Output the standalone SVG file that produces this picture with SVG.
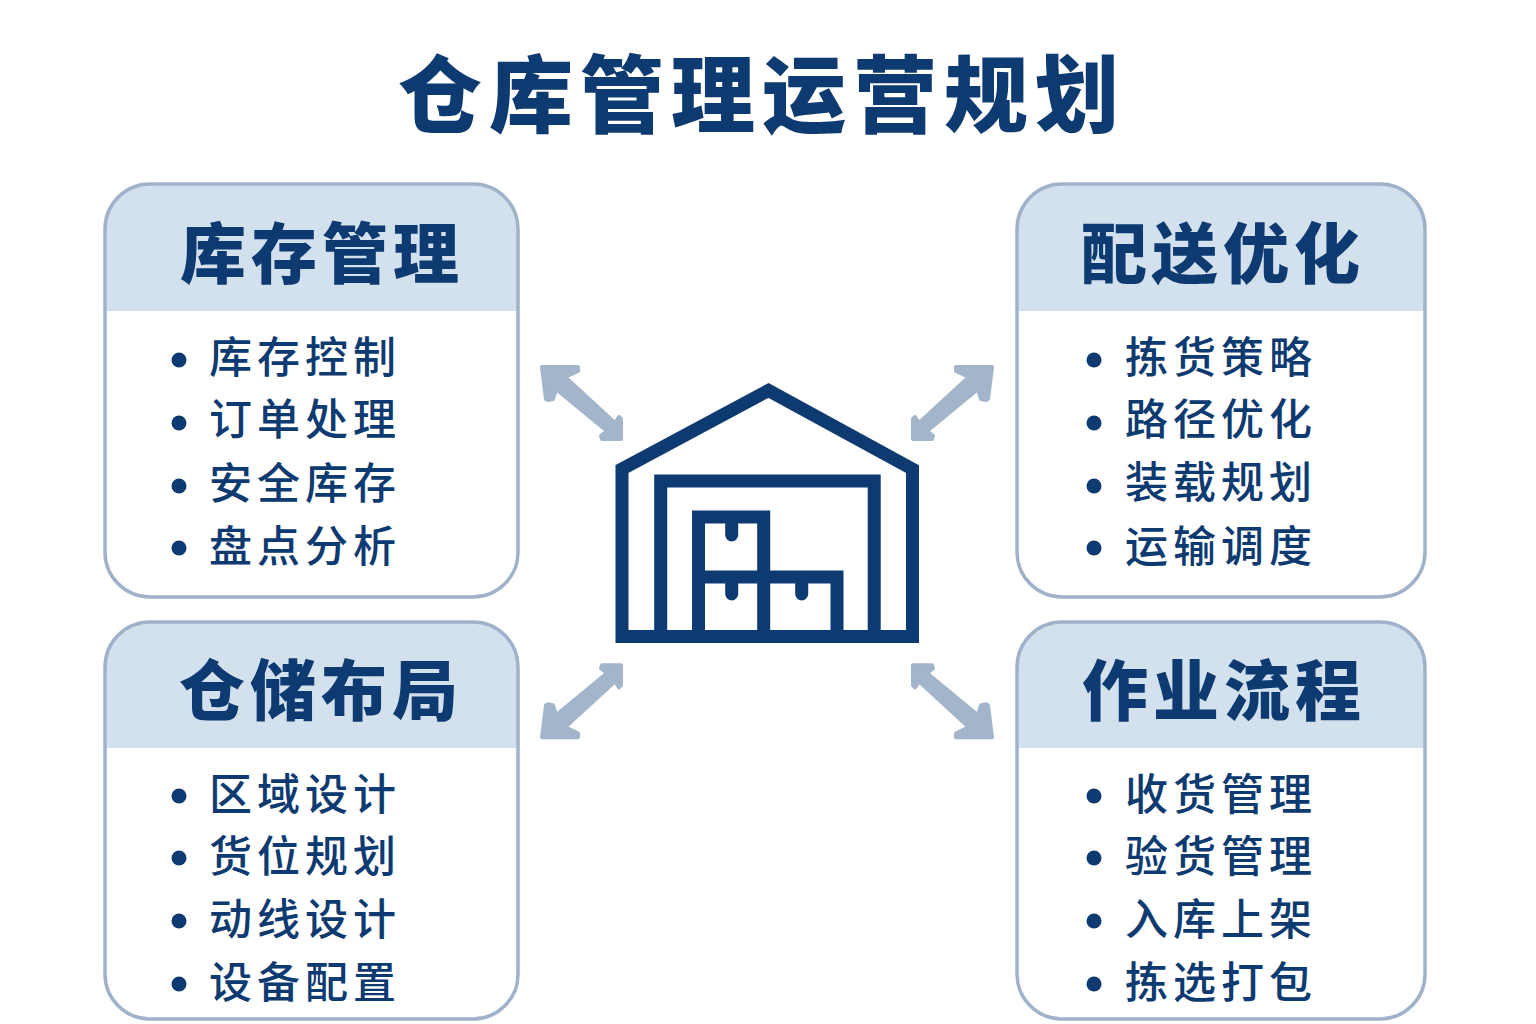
<svg xmlns="http://www.w3.org/2000/svg" width="1536" height="1024" viewBox="0 0 1536 1024">
<style>
text{font-family:"Noto Sans CJK SC","Liberation Sans",sans-serif;fill:#0d3a70}
.title{font-size:84px;font-weight:900;letter-spacing:7px;text-anchor:middle}
.head{font-size:66px;font-weight:900;letter-spacing:5px;text-anchor:middle}
.item{font-size:43px;font-weight:500;letter-spacing:5px}
.bullet{fill:#0d3a70}
.border{fill:none;stroke:#9fb2ca;stroke-width:3.5}
.header{fill:#d3e1ef}
.ink{fill:none;stroke:#0d3a70;stroke-width:13;stroke-linejoin:miter}
.tab{fill:none;stroke:#0d3a70;stroke-width:13;stroke-linecap:round}
.arrow{fill:#a2b5cb;stroke:#a2b5cb;stroke-width:4;stroke-linejoin:round}
</style>
<defs>
<polygon id="arrow" class="arrow" points="542,367 578,367 578,371 565,377 615,423 619,417 621,419 621,439 602,439 601,436 607,431 556,389 553,399 548,400 546,399"/>
</defs>
<rect width="1536" height="1024" fill="#fff"/>
<text class="title" x="762" y="126">仓库管理运营规划</text>
<g id="card-inventory">
<path class="header" d="M105 311V229a45 45 0 0 1 45-45H473a45 45 0 0 1 45 45V311Z"/>
<rect class="border" x="105" y="184" width="413" height="413" rx="45"/>
<text class="head" x="322" y="278">库存管理</text>
<circle class="bullet" cx="179" cy="360" r="7.5"/><text class="item" x="209" y="373">库存控制</text>
<circle class="bullet" cx="179" cy="423" r="7.5"/><text class="item" x="209" y="435">订单处理</text>
<circle class="bullet" cx="179" cy="486" r="7.5"/><text class="item" x="209" y="499">安全库存</text>
<circle class="bullet" cx="179" cy="548" r="7.5"/><text class="item" x="209" y="562">盘点分析</text>
</g>
<g id="card-delivery">
<path class="header" d="M1017 311V229a45 45 0 0 1 45-45H1380a45 45 0 0 1 45 45V311Z"/>
<rect class="border" x="1017" y="184" width="408" height="413" rx="45"/>
<text class="head" x="1223" y="278">配送优化</text>
<circle class="bullet" cx="1094" cy="360" r="7.5"/><text class="item" x="1125" y="373">拣货策略</text>
<circle class="bullet" cx="1094" cy="423" r="7.5"/><text class="item" x="1125" y="435">路径优化</text>
<circle class="bullet" cx="1094" cy="486" r="7.5"/><text class="item" x="1125" y="498">装载规划</text>
<circle class="bullet" cx="1094" cy="548" r="7.5"/><text class="item" x="1125" y="562">运输调度</text>
</g>
<g id="card-layout">
<path class="header" d="M105 748V667a45 45 0 0 1 45-45H473a45 45 0 0 1 45 45V748Z"/>
<rect class="border" x="105" y="622" width="413" height="397" rx="45"/>
<text class="head" x="321" y="715">仓储布局</text>
<circle class="bullet" cx="179" cy="796" r="7.5"/><text class="item" x="209" y="810">区域设计</text>
<circle class="bullet" cx="179" cy="858" r="7.5"/><text class="item" x="209" y="872">货位规划</text>
<circle class="bullet" cx="179" cy="921" r="7.5"/><text class="item" x="209" y="935">动线设计</text>
<circle class="bullet" cx="179" cy="984" r="7.5"/><text class="item" x="209" y="998">设备配置</text>
</g>
<g id="card-process">
<path class="header" d="M1017 748V667a45 45 0 0 1 45-45H1380a45 45 0 0 1 45 45V748Z"/>
<rect class="border" x="1017" y="622" width="408" height="397" rx="45"/>
<text class="head" x="1224" y="715">作业流程</text>
<circle class="bullet" cx="1094" cy="796" r="7.5"/><text class="item" x="1125" y="810">收货管理</text>
<circle class="bullet" cx="1094" cy="858" r="7.5"/><text class="item" x="1125" y="872">验货管理</text>
<circle class="bullet" cx="1094" cy="921" r="7.5"/><text class="item" x="1125" y="935">入库上架</text>
<circle class="bullet" cx="1094" cy="984" r="7.5"/><text class="item" x="1125" y="998">拣选打包</text>
</g>
<g id="warehouse">
<path class="ink" d="M622 469L768.500 390.500L912.500 469V636.500H622Z"/>
<path class="ink" d="M660.700 636V481H874.200V636"/>
<path class="ink" d="M698.500 636V517H763.700V636M698.500 577H837V636"/>
<path class="tab" d="M731.700 525V535M731.700 584V594M801.700 584V594"/>
</g>
<g id="connectors">
<use href="#arrow"/>
<use href="#arrow" transform="translate(1534,0) scale(-1,1)"/>
<use href="#arrow" transform="translate(0,1104.300) scale(1,-1)"/>
<use href="#arrow" transform="translate(1534,1104.300) scale(-1,-1)"/>
</g>
</svg>
